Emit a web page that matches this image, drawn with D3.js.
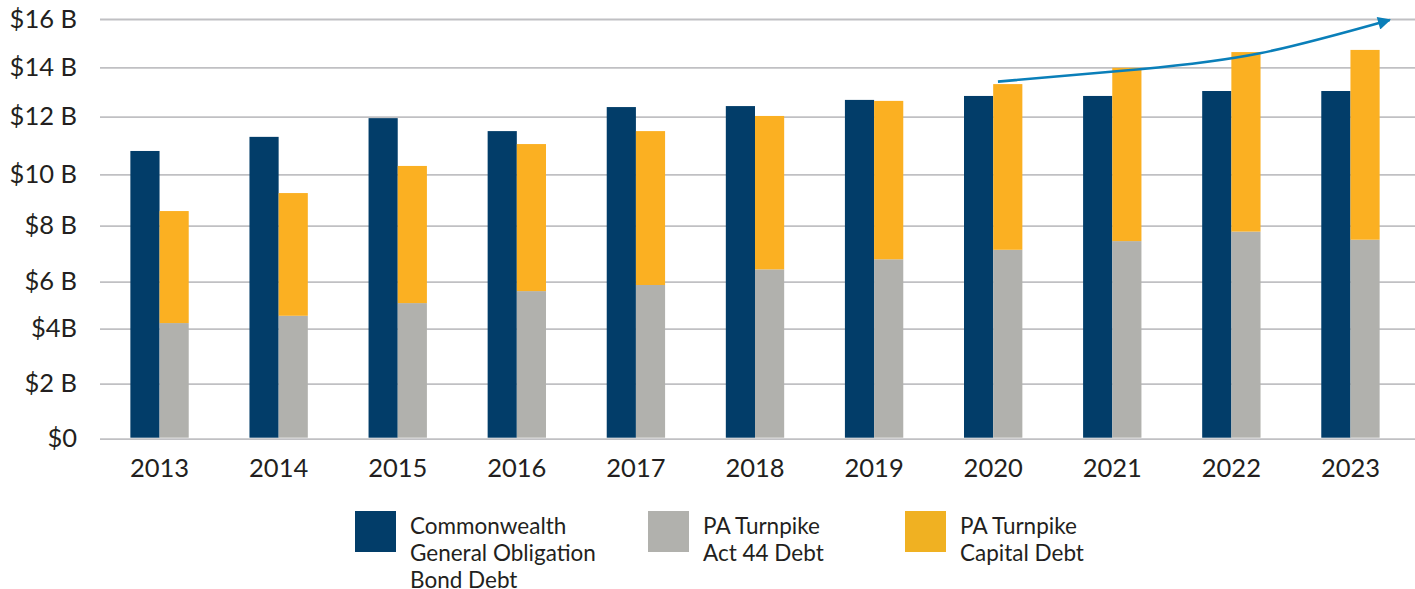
<!DOCTYPE html>
<html>
<head>
<meta charset="utf-8">
<script src="https://cdn.jsdelivr.net/npm/d3@7"></script>
<style>
  body { margin: 0; background: #fff; }
  text { font-family: Lato, 'Open Sans', sans-serif; fill: #231f20; }
</style>
</head>
<body>
<svg id="chart"></svg>
<script>
// debt by year, billions of dollars
let years = ['2013', '2014', '2015', '2016', '2017', '2018', '2019', '2020', '2021', '2022', '2023']
let goDebt = [10.81, 11.3, 11.95, 11.5, 12.39, 12.43, 12.68, 12.84, 12.84, 13.04, 13.04]
let act44Debt = [4.24, 4.55, 5.09, 5.6, 5.86, 6.44, 6.8, 7.14, 7.45, 7.79, 7.5]
let capitalDebt = [4.33, 4.72, 5.2, 5.45, 5.64, 5.59, 5.84, 6.18, 6.53, 6.84, 7.22]

let yTicks = [0, 2, 4, 6, 8, 10, 12, 14, 16]
let yTickLabels = ['$0', '$2 B', '$4B', '$6 B', '$8 B', '$10 B', '$12 B', '$14 B', '$16 B']

let seriesNames = ['Commonwealth\nGeneral Obligation\nBond Debt', 'PA Turnpike\nAct 44 Debt', 'PA Turnpike\nCapital Debt']
let seriesColors = ['#023d69', '#b1b1ad', '#fbb022']
let legendColors = ['#023d69', '#b1b1ad', '#f0b122']

// trend arrow (fractional year, value)
let trendPoints = [[2020.04, 13.42], [2021.23, 13.92], [2022.24, 14.58], [2023.33, 15.96]]

let width = 1415
let height = 589
let left = 100
let right = 1410

let svg = d3.select('#chart').attr('width', width).attr('height', height)

// the source gridlines are not evenly spaced, so use a piecewise scale
let y = d3.scaleLinear()
  .domain(yTicks)
  .range([438.7, 383.7, 328.7, 281.7, 225.7, 174.3, 116.7, 67.3, 19])

let x = d3.scaleBand()
  .domain(years)
  .range([left, right])
  .paddingInner(0.51)
  .paddingOuter(0.255)

let xSeries = d3.scaleBand()
  .domain(['go', 'pa'])
  .range([0, x.bandwidth()])

let xYear = d3.scaleLinear()
  .domain([2013, 2023])
  .range([x('2013') + x.bandwidth() / 2, x('2023') + x.bandwidth() / 2])

// gridlines + y labels
let yAxis = d3.axisLeft(y)
  .tickValues(yTicks)
  .tickFormat((d, i) => yTickLabels[i])
  .tickSize(-(width - left))
  .tickPadding(23)

let gy = svg.append('g')
  .attr('transform', `translate(${left},0)`)
  .call(yAxis)
gy.select('.domain').remove()
gy.selectAll('line').attr('stroke', '#c0c0c3').attr('stroke-width', 1.8)
gy.selectAll('text')
  .style('font-size', '25.5px')
  .style('font-family', 'Lato, sans-serif')
  .attr('fill', '#231f20')

// bars
let rows = years.map((yr, i) => ({
  year: yr,
  go: goDebt[i],
  act44: act44Debt[i],
  capital: capitalDebt[i],
}))

svg.append('g')
  .selectAll('rect.go')
  .data(rows)
  .join('rect')
  .attr('class', 'go')
  .attr('x', d => x(d.year) + xSeries('go'))
  .attr('y', d => y(d.go))
  .attr('width', xSeries.bandwidth())
  .attr('height', d => y(0) - y(d.go) - 1)
  .attr('fill', seriesColors[0])

let stack = d3.stack().keys(['act44', 'capital'])(rows)

svg.append('g')
  .selectAll('g')
  .data(stack)
  .join('g')
  .attr('fill', (d, i) => seriesColors[i + 1])
  .selectAll('rect')
  .data(d => d)
  .join('rect')
  .attr('x', d => x(d.data.year) + xSeries('pa'))
  .attr('y', d => y(d[1]))
  .attr('width', xSeries.bandwidth())
  .attr('height', d => y(d[0]) - y(d[1]) - (d[0] === 0 ? 1 : 0))

// year labels
let xAxis = d3.axisBottom(x).tickSize(0).tickPadding(20)
let gx = svg.append('g')
  .attr('transform', `translate(0,${y(0)})`)
  .call(xAxis)
gx.select('.domain').remove()
gx.selectAll('text')
  .style('font-size', '25.5px')
  .style('font-family', 'Lato, sans-serif')
  .attr('fill', '#231f20')

// trend arrow
svg.append('defs')
  .append('marker')
  .attr('id', 'head')
  .attr('viewBox', '0 0 10 10')
  .attr('refX', 9)
  .attr('refY', 5)
  .attr('markerWidth', 6)
  .attr('markerHeight', 5)
  .attr('markerUnits', 'strokeWidth')
  .attr('orient', 'auto')
  .append('path')
  .attr('d', 'M0,0 L10,5 L0,10 Z')
  .attr('fill', '#0a7fb9')

svg.append('path')
  .datum(trendPoints)
  .attr('d', d3.line().x(d => xYear(d[0])).y(d => y(d[1])).curve(d3.curveNatural))
  .attr('fill', 'none')
  .attr('stroke', '#0a7fb9')
  .attr('stroke-width', 2.6)
  .attr('marker-end', 'url(#head)')

// legend
let legendX = [355, 648, 905]
let legend = svg.append('g')
  .selectAll('g')
  .data(seriesNames)
  .join('g')
  .attr('transform', (d, i) => `translate(${legendX[i]},511)`)

legend.append('rect')
  .attr('width', 41)
  .attr('height', 41)
  .attr('fill', (d, i) => legendColors[i])

legend.append('text')
  .attr('x', 55)
  .attr('y', 22.5)
  .style('font-size', '22.5px')
  .selectAll('tspan')
  .data(d => d.split('\n'))
  .join('tspan')
  .attr('x', 55)
  .attr('dy', (d, i) => (i === 0 ? 0 : 27))
  .text(d => d)
</script>
</body>
</html>
